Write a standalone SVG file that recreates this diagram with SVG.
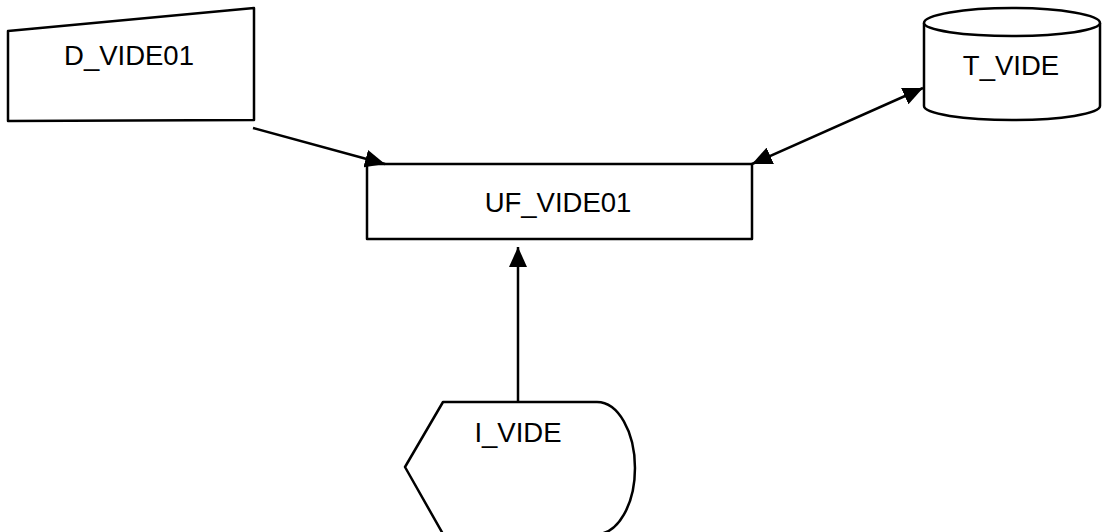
<svg xmlns="http://www.w3.org/2000/svg" width="1106" height="532" viewBox="0 0 1106 532">
<style>
.shape{fill:#fff;stroke:#000;stroke-width:2.5;stroke-linejoin:round}
.lbl{font-family:"Liberation Sans",Arial,sans-serif;font-size:27.5px;fill:#000;text-anchor:middle}
.conn{stroke:#000;stroke-width:2.5;fill:none}
</style>
<defs>
<marker id="ah" markerUnits="userSpaceOnUse" markerWidth="22" markerHeight="18" refX="20" refY="9" orient="auto-start-reverse" viewBox="0 0 22 18">
<path d="M0,0 L20,9 L0,18 Z" fill="#000"/>
</marker>
</defs>
<rect width="1106" height="532" fill="#fff"/>
<g id="D_VIDE01">
<path class="shape" d="M8,31 L254,8 L254,120 L8,121 Z"/>
<text class="lbl" x="129" y="65">D_VIDE01</text>
</g>
<g id="T_VIDE">
<path class="shape" d="M924,23 L924,106 A88,14 0 0 0 1100,106 L1100,23 A88,15 0 0 0 924,23 Z"/>
<path class="shape" d="M924,23 A88,13 0 0 0 1100,23"/>
<text class="lbl" x="1011" y="75">T_VIDE</text>
</g>
<g id="UF_VIDE01">
<rect class="shape" x="367" y="164" width="385" height="75"/>
<text class="lbl" x="558" y="212">UF_VIDE01</text>
</g>
<g id="I_VIDE">
<path class="shape" d="M443,402 L597,402 A38,66 0 0 1 597,534 L443,534 L405,467 Z"/>
<text class="lbl" x="518" y="442">I_VIDE</text>
</g>
<g id="connectors">
<line class="conn" x1="253" y1="128" x2="385" y2="164" marker-end="url(#ah)"/>
<line class="conn" x1="752" y1="164" x2="923" y2="88" marker-start="url(#ah)" marker-end="url(#ah)"/>
<line class="conn" x1="518" y1="402" x2="518" y2="247" marker-end="url(#ah)"/>
</g>
</svg>
